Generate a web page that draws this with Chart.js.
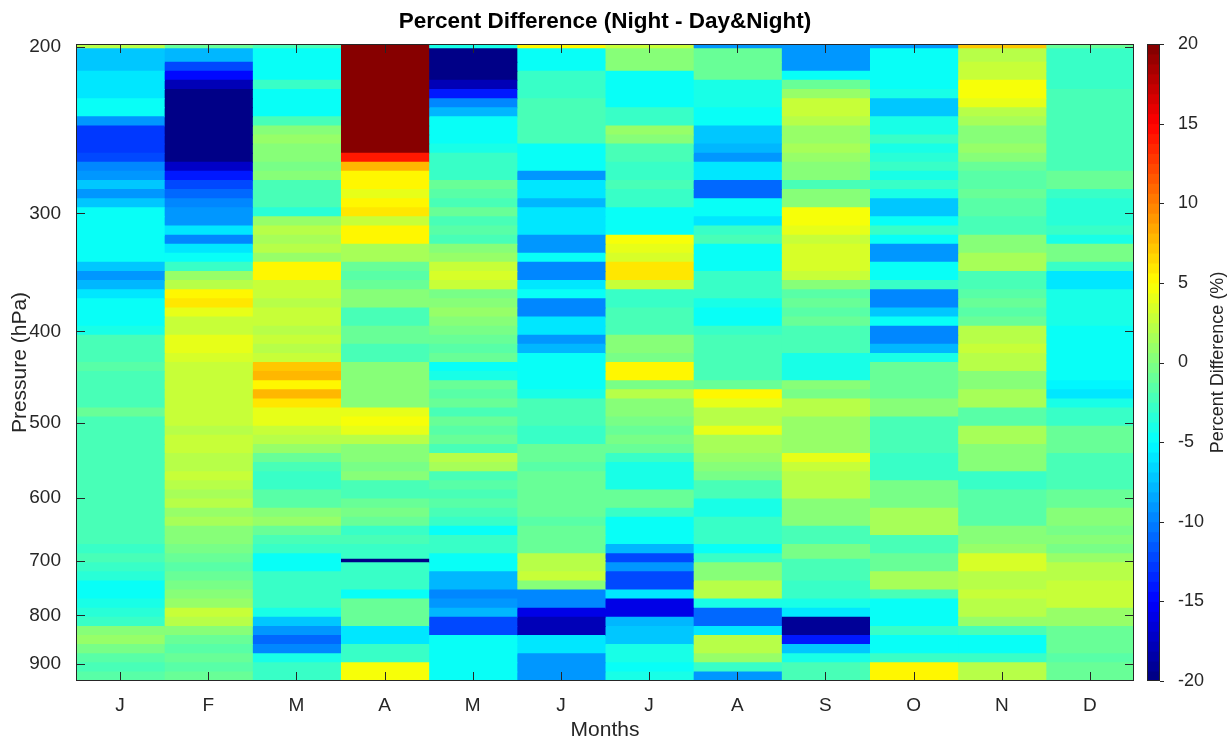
<!DOCTYPE html>
<html>
<head>
<meta charset="utf-8">
<title>Percent Difference</title>
<script src="https://cdn.jsdelivr.net/npm/chart.js@4/dist/chart.umd.min.js"></script>
<style>
  html, body { margin: 0; padding: 0; background: #fff; overflow: hidden; }
  #wrap { position: relative; width: 1229px; height: 738px; }
  #heat { position: absolute; left: 0; top: 0; }
  #cbar { position: absolute; left: 1134px; top: 0; }
</style>
</head>
<body>
<div id="wrap">
  <canvas id="heat" width="1229" height="738"></canvas>
  <canvas id="cbar" width="95" height="738"></canvas>
</div>
<script>
// months on the x-axis
var months = ["Jan", "Feb", "Mar", "Apr", "May", "Jun", "Jul", "Aug", "Sep", "Oct", "Nov", "Dec"];
var monthTicks = ["J", "F", "M", "A", "M", "J", "J", "A", "S", "O", "N", "D"];

// pressure cell edges (hPa), top to bottom
var edges = [198.5, 200.8, 207.5, 212.2, 216.9, 221.8, 226.8, 231.9, 237.1, 242.4,
  247.8, 253.4, 259.1, 264.9, 270.8, 276.9, 283.1, 289.5, 296.0, 302.6,
  309.4, 316.4, 323.5, 330.7, 338.1, 345.7, 353.5, 361.4, 369.5, 377.8,
  386.3, 395.0, 403.8, 412.9, 422.2, 431.7, 441.3, 451.2, 461.4, 471.7,
  482.3, 493.1, 504.2, 515.5, 527.1, 538.9, 551.0, 563.4, 576.0, 589.0,
  602.2, 615.7, 629.5, 643.6, 658.1, 672.8, 688.0, 697.5, 703.4, 719.2,
  735.3, 751.8, 768.7, 785.9, 803.6, 821.6, 840.0, 858.9, 878.2, 897.9,
  918.0, 938.6];
var pressureTicks = [200, 300, 400, 500, 600, 700, 800, 900];
var colorTicks = [-20, -15, -10, -5, 0, 5, 10, 15, 20];

// percent difference (%), one value per pressure cell
var jan = [2, -7, -7, -6, -6, -6, -5, -5, -9, -13,
  -13, -13, -12, -10, -9, -7, -9, -7, -5, -5,
  -5, -5, -5, -5, -7, -9, -8, -6, -5, -5,
  -5, -4, -2, -2, -2.5, -1.5, -2, -2.5, -2, -2,
  -1, -2, -2.5, -2, -2, -2.5, -2, -2.5, -2, -2,
  -2.5, -2, -2.5, -2, -2.5, -3, -2.5, -2.5,
  -3, -3.5, -5, -5, -4, -3.5, -3, 0.5, 1, -0.5, -1.5, -2, -1.5];
var feb = [-1, -8, -12, -15, -18, -20, -20, -20, -20, -20,
  -20, -20, -20, -17, -14, -12, -11, -10, -9, -9,
  -6, -10, -6, -5, -3, 1, 2, 5, 6, 4,
  3, 3, 4, 4, 3.5, 3, 3, 3, 2.5, 3,
  2.5, 3, 2, 2.5, 3, 2, 2, 2.5, 2, 1.5,
  2, 1, 1.5, 0.5, 0, -0.5, -1, -1,
  -1.5, -1, -0.5, 0, 1, 2.5, 2, 0, -1, -1.5, -1, -1.5, -1];
var mar = [-2, -5, -5, -5, -3, -5, -5, -5, -2.5, 0,
  1, 0.5, 0, -0.5, 0, -2, -2, -2, -3.5, 1,
  2, 1.5, 2, 1, 5.5, 5.5, 3, 2.5, 2, 2.5,
  3, 2, 2.5, 2, 3, 7, 8, 5, 8, 6,
  4, 4, 3, 2, 1, -1, -2, -3, -3, -1.5,
  -1.5, 0, 1, -1, -2, -3, -5, -5,
  -5, -3, -3, -3, -3, -4, -7, -9, -11, -10, -4, -3, -3];
var apr = [20, 20, 20, 20, 20, 20, 20, 20, 20, 20,
  20, 20, 14, 8, 5, 5, 4, 5, 6, 3,
  5, 5, 1.5, 1.5, -1, -1.5, -1, 0, 0, -2,
  -2, -1, -1, -2, -2.5, 0, 0, 0.5, 0, 0,
  4, 4.5, 4, 2, 0, 0, -0.5, 0, -2, -2,
  -1, -0.5, -1, -3, -2.5, -3, -3, -20,
  -3, -3, -3, -5, -1, -1, -1, -6, -6, -3, -3, 4.5, 4.5];
var may = [-4, -20, -20, -20, -18, -14, -10, -8, -5, -5,
  -5, -4, -3, -3, -3, -1, -1.5, -2, -1, -2,
  -1.5, -2, 0.5, 1, 2.5, 3.5, 3, -0.5, 0, 1,
  0, -0.5, -1, -1.5, -1, -5, -4, -1, -1.5, -1,
  -2, -1, -1.5, -1, -2, 2, 1.5, -2, -1.5, -2,
  -1.5, -2, -3, -5, -3, -3, -5, -5,
  -5, -8, -8, -10, -9, -8, -12, -12, -5, -5, -4.5, -5, -5];
var jun = [5, -5, -5, -3, -3, -3, -2, -2, -2, -2,
  -2, -5, -5, -5, -9, -6, -6, -8, -6, -6,
  -6, -9, -9, -5, -10, -10, -6, -5, -10, -10,
  -6, -6, -9, -8, -5, -5, -5, -5, -4, -2,
  -2, -2.5, -3, -3, -1, -1, -1.5, -1, -1, -1,
  -1, -1, -1.5, -1, -1, -1, 2, 2,
  2, 2.5, 0, -10, -10, -16, -18, -18, -6, -6, -9, -9, -9];
var jul = [3, 0, 0, -5, -5, -5, -5, -3, -3, 1,
  0, -2.5, -2.5, -3, -3, -2.5, -3, -3, -5, -5,
  -5, 4.5, 4, 3.5, 6, 6, 3, -3, -3, -2,
  -2, -2, 0, 0, -0.5, 5, 5, -0.5, 2, 0,
  0, -0.5, -1, -0.5, -1, -3, -4, -4, -4, -1,
  -1, -3, -5, -5, -5, -8, -12, -12,
  -9, -12, -12, -6, -16, -16, -8, -7, -7, -4, -4, -5, -4];
var aug = [-9, -1, -1, -1, -4, -4, -4, -5, -5, -7,
  -7, -8, -9, -6, -6, -11, -11, -5, -5, -6,
  -3, -2.5, -5, -5, -5, -3, -3, -3, -4, -5,
  -5, -3, -2.5, -2, -2.5, -2, -2.5, -1, 5, 4,
  2, 2, 4, 1.5, 1.5, 1, 0, -0.5, -2, -2,
  -4, -4, -3, -3, -3, -5, -3, -3,
  0, 0, 2, 2, -4, -11, -11, -6, 2, 2, 1, -3, -9];
var sep = [-9, -9, -9, -5, -1, 1, 3, 3, 2, 1,
  1, 1.5, 1, 0.5, 0, -2, 0, 0, 4.5, 4.5,
  4, 3, 3.5, 3.5, 3.5, 3, 0, -1.5, -1, -1.5,
  -1, -2.5, -2.5, -2.5, -4, -4, -4, 0, -0.5, 2,
  2, 1, 1, 1, 1, 4, 3, 2, 2, 2,
  0, 0, 0, -2, -2, -0.5, -0.5, -2,
  -2, -2, -3, -3, -4, -6, -19, -19, -14, -7, -4, -2.5, -2.5];
var oct = [-9, -5, -5, -5, -5, -4, -7, -7, -4, -4,
  -3, -4, -3.5, -3, -4, -3, -4, -7, -7, -5,
  -3, -5, -9, -9, -5, -5, -3, -10, -10, -7,
  -5, -10, -10, -8, -4, -1, -1, -1, -1, 0,
  0, -2, -2, -2, -2, -3, -3, -3, -0.5, -0.5,
  -0.5, 1.5, 1.5, 1.5, -2, -2, -1, -1,
  -1, 1.5, 1.5, -2.5, -5, -5, -5, -3, -5, -5, -3, 5, 5];
var nov = [7, 2, 2.5, 3, 4.5, 4.5, 4, 2, 1.5, 0.5,
  0, 1, 0.5, -1, -1.5, -1.5, -1, -1.5, -1.5, -2.5,
  -2.5, 0, 0, 1.5, 1.5, -2, -2, -1.5, -1, -1.5,
  -1, 2, 2, 2.5, 2, 2, 0, 0, 1.5, 1.5,
  -1.5, -1.5, 1.5, 1.5, 0, 0, 0, -3, -3, -1.5,
  -1.5, -1.5, -1.5, 0, 0, 1, 3.5, 3.5,
  3.5, 2, 2, 2.5, 2, 2, 1, -2, -5, -5, -3, 2, 2];
var dec = [-1, -3, -3, -3, -3, -2.5, -2, -2, -2, -2,
  -2, -2, -2, -2, -1, -1, -3, -3.5, -3.5, -3.5,
  -3, -4, -0.5, -0.5, -3, -6, -6, -4, -4, -4,
  -4, -5, -5, -5, -5, -5, -5, -5.5, -6, -4,
  -3, -3, -1, -1, -1, -2.5, -2.5, -2.5, -2.5, -1,
  -1, 0, 0, -0.5, 0, -0.5, 1, 1,
  2, 2, 3, 3, 3, 1, 1, -1, -1, -1, -1.5, -1, -1];

var series = [jan, feb, mar, apr, may, jun, jul, aug, sep, oct, nov, dec];
var cMin = -20, cMax = 20;
var ink = "#262626";

Chart.defaults.font.family = "'Liberation Sans', Arial, Helvetica, sans-serif";
Chart.defaults.color = ink;

function clamp(v) { return Math.max(0, Math.min(1, v)); }

// matlab style jet, 64 steps
function jet(v) {
  var t = (v - cMin) / (cMax - cMin);
  var i = Math.min(63, Math.max(0, Math.floor(t * 64)));
  var s = (i + 0.5) / 64;
  var r = clamp(1.5 - Math.abs(4 * s - 3));
  var g = clamp(1.5 - Math.abs(4 * s - 2));
  var b = clamp(1.5 - Math.abs(4 * s - 1));
  return "rgb(" + Math.round(r * 255) + "," + Math.round(g * 255) + "," + Math.round(b * 255) + ")";
}

var datasets = series.map(function (vals, m) {
  return {
    label: months[m],
    data: vals.map(function (v, j) { return { x: months[m], y: [edges[j], edges[j + 1]] }; }),
    backgroundColor: vals.map(jet),
    borderWidth: 0,
    grouped: false,
    categoryPercentage: 1,
    barPercentage: 1,
    inflateAmount: 0.5
  };
});

// box + inward ticks like matlab
var frame = {
  id: "frame",
  afterDatasetsDraw: function (chart) {
    var ctx = chart.ctx, a = chart.chartArea, xs = chart.scales.x, ys = chart.scales.y;
    ctx.save();
    ctx.strokeStyle = ink;
    ctx.lineWidth = 1;
    ctx.beginPath();
    xs.ticks.forEach(function (t, i) {
      var px = Math.round(xs.getPixelForTick(i)) + 0.5;
      ctx.moveTo(px, a.bottom); ctx.lineTo(px, a.bottom - 9);
      ctx.moveTo(px, a.top); ctx.lineTo(px, a.top + 9);
    });
    pressureTicks.forEach(function (v) {
      var py = Math.round(ys.getPixelForValue(v)) + 0.5;
      ctx.moveTo(a.left, py); ctx.lineTo(a.left + 9, py);
      ctx.moveTo(a.right, py); ctx.lineTo(a.right - 9, py);
    });
    ctx.stroke();
    ctx.strokeRect(Math.round(a.left) + 0.5, Math.round(a.top) + 0.5, Math.round(a.width) - 1, Math.round(a.height) - 1);
    ctx.restore();
  }
};

new Chart(document.getElementById("heat"), {
  type: "bar",
  data: { labels: months, datasets: datasets },
  options: {
    responsive: false,
    animation: false,
    layout: { padding: { left: 0, right: 95, top: 0, bottom: 0 } },
    plugins: {
      legend: { display: false },
      tooltip: { enabled: false },
      title: {
        display: true,
        fullSize: false,
        text: "Percent Difference (Night - Day&Night)",
        color: "#000",
        font: { size: 22.5, weight: "bold", lineHeight: 1.2 },
        padding: { top: 8.2, bottom: 8.8 }
      }
    },
    scales: {
      x: {
        grid: { display: false },
        border: { display: false },
        ticks: {
          font: { size: 19 },
          padding: 5,
          maxRotation: 0,
          callback: function (v, i) { return monthTicks[i]; }
        },
        title: { display: true, text: "Months", font: { size: 21, lineHeight: 0.76 }, padding: 0 },
        afterFit: function (s) { s.height = 57; }
      },
      y: {
        type: "logarithmic",
        reverse: true,
        min: edges[0],
        max: edges[edges.length - 1],
        grid: { display: false },
        border: { display: false },
        afterBuildTicks: function (s) { s.ticks = pressureTicks.map(function (v) { return { value: v }; }); },
        ticks: {
          font: { size: 19 },
          padding: 7,
          autoSkip: false,
          callback: function (v) { return String(v); }
        },
        title: { display: true, text: "Pressure (hPa)", font: { size: 21, lineHeight: 1.2 }, padding: { top: 8 } },
        afterFit: function (s) { s.width = 76; }
      }
    }
  },
  plugins: [frame]
});

// colorbar
var cbStep = (cMax - cMin) / 64;
var cbSteps = [];
for (var k = 0; k < 64; k++) cbSteps.push(cMin + k * cbStep);

var cbFrame = {
  id: "cbFrame",
  afterDatasetsDraw: function (chart) {
    var ctx = chart.ctx, a = chart.chartArea, ys = chart.scales.y;
    ctx.save();
    ctx.strokeStyle = ink;
    ctx.lineWidth = 1;
    ctx.strokeRect(Math.round(a.left) + 0.5, Math.round(a.top) + 0.5, Math.round(a.width) - 1, Math.round(a.height) - 1);
    ctx.beginPath();
    colorTicks.forEach(function (v) {
      var py = Math.round(ys.getPixelForValue(v)) + 0.5;
      ctx.moveTo(a.right, py); ctx.lineTo(a.right + 4, py);
    });
    ctx.stroke();
    ctx.translate(84, (a.top + a.bottom) / 2);
    ctx.rotate(-Math.PI / 2);
    ctx.font = "18px 'Liberation Sans', Arial, sans-serif";
    ctx.fillStyle = ink;
    ctx.textAlign = "center";
    ctx.textBaseline = "middle";
    ctx.fillText("Percent Difference (%)", 0, 0);
    ctx.restore();
  }
};

new Chart(document.getElementById("cbar"), {
  type: "bar",
  data: {
    labels: ["cb"],
    datasets: [{
      data: cbSteps.map(function (s) { return { x: "cb", y: [s, s + cbStep] }; }),
      backgroundColor: cbSteps.map(function (s) { return jet(s + cbStep / 2); }),
      borderWidth: 0,
      grouped: false,
      categoryPercentage: 1,
      barPercentage: 1,
      inflateAmount: 0.5
    }]
  },
  options: {
    responsive: false,
    animation: false,
    layout: { padding: { left: 13, right: 0, top: 44, bottom: 57 } },
    plugins: { legend: { display: false }, tooltip: { enabled: false } },
    scales: {
      x: { display: false },
      y: {
        position: "right",
        min: cMin,
        max: cMax,
        grid: { display: false },
        border: { display: false },
        afterBuildTicks: function (s) { s.ticks = colorTicks.map(function (v) { return { value: v }; }); },
        ticks: { font: { size: 18 }, padding: 10, autoSkip: false },
        afterFit: function (s) { s.width = 69; }
      }
    }
  },
  plugins: [cbFrame]
});
</script>
</body>
</html>
